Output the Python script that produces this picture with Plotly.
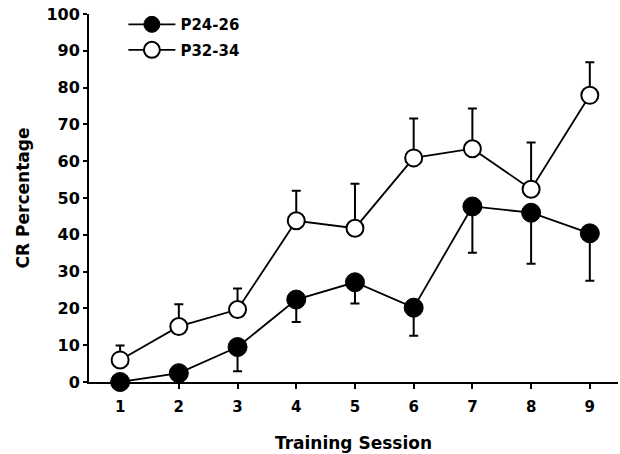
import plotly.graph_objects as go

# Training sessions and group means (% conditioned responses)
sessions = [1, 2, 3, 4, 5, 6, 7, 8, 9]
p24_mean = [0.0, 2.4, 9.5, 22.4, 27.1, 20.2, 47.7, 46.0, 40.4]
p24_sem = [0.0, 0.0, 6.6, 6.1, 5.8, 7.6, 12.6, 13.9, 12.9]
p32_mean = [6.0, 15.1, 19.7, 43.8, 41.8, 60.9, 63.4, 52.4, 77.9]
p32_sem = [3.9, 6.0, 5.7, 8.2, 12.1, 10.7, 10.9, 12.7, 9.0]

y_ticks = [0, 10, 20, 30, 40, 50, 60, 70, 80, 90, 100]
font_family = "DejaVu Sans"

fig = go.Figure()

fig.add_trace(go.Scatter(
    x=sessions, y=p24_mean, name="<b>P24-26</b>", legendgroup="a",
    mode="lines+markers", cliponaxis=False,
    line=dict(color="black", width=1.8),
    marker=dict(size=19, color="black", line=dict(color="black", width=1)),
    error_y=dict(type="data", symmetric=False, array=[0] * len(p24_sem),
                 arrayminus=p24_sem, color="black", thickness=2, width=4.5),
))

fig.add_trace(go.Scatter(
    x=sessions, y=p32_mean, name="<b>P32-34</b>", legendgroup="b",
    mode="lines+markers", cliponaxis=False,
    line=dict(color="black", width=1.8),
    marker=dict(size=17, color="white", line=dict(color="black", width=2)),
    error_y=dict(type="data", symmetric=False, array=p32_sem,
                 arrayminus=[0] * len(p32_sem), color="black", thickness=2, width=4.5),
))

fig.update_layout(
    width=620, height=454,
    margin=dict(l=89, r=2, t=14, b=72),
    paper_bgcolor="white", plot_bgcolor="white",
    font=dict(family=font_family, color="black", size=15),
    showlegend=True,
    legend=dict(x=0.065, y=1.016, xanchor="left", yanchor="top",
                bgcolor="rgba(0,0,0,0)", font=dict(size=15, family=font_family),
                itemwidth=47, tracegroupgap=3, traceorder="grouped"),
    xaxis=dict(
        range=[0.47, 9.48], tickvals=sessions,
        ticktext=[f"<b>{s}</b>" for s in sessions],
        showline=True, linecolor="black", linewidth=2,
        ticks="outside", ticklen=5, tickwidth=2, tickcolor="black",
        ticklabelstandoff=5,
        showgrid=False, zeroline=False,
        title=dict(text="<b>Training Session</b>", font=dict(size=17), standoff=22),
    ),
    yaxis=dict(
        range=[0, 100], tickvals=y_ticks,
        ticktext=[f"<b>{v}</b>" for v in y_ticks],
        showline=True, linecolor="black", linewidth=2,
        ticks="outside", ticklen=4, tickwidth=2, tickcolor="black",
        tickfont=dict(size=16),
        showgrid=False, zeroline=False,
        title=dict(text="<b>CR Percentage</b>", font=dict(size=17), standoff=12),
    ),
)

fig.write_html("out.html")
